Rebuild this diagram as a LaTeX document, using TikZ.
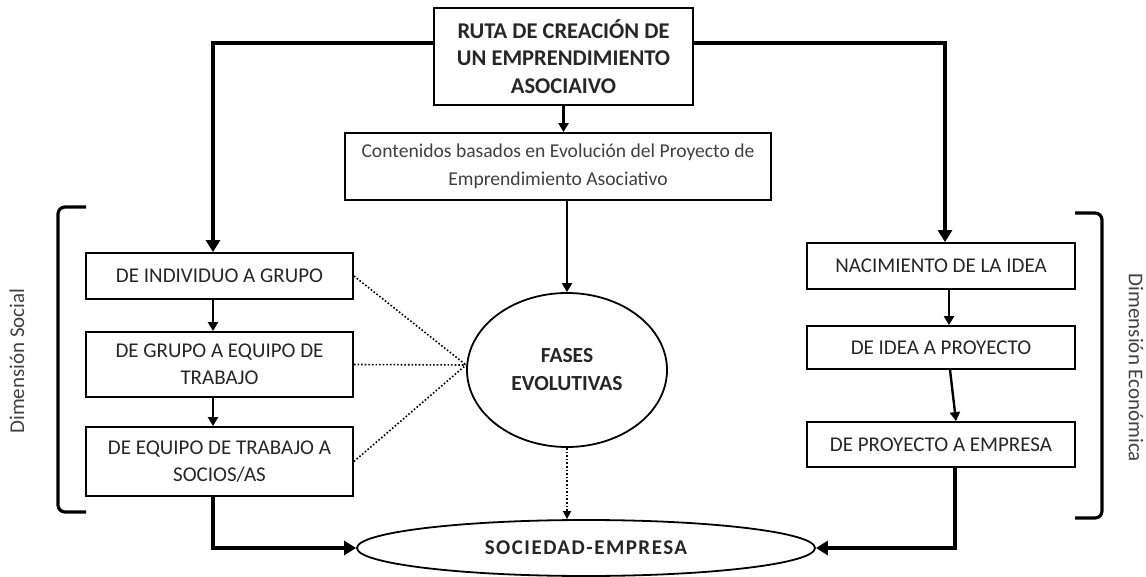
\documentclass[tikz,border=0pt]{standalone}
\usepackage{fontspec}
\setmainfont{Carlito}
\newfontfamily\spacedbold[LetterSpace=7]{Carlito}
\usetikzlibrary{arrows.meta,shapes.geometric}
\begin{document}
\begin{tikzpicture}[x=1pt,y=-1pt,
  box/.style={draw, line width=1.8pt, rectangle, align=center, inner sep=2pt, font=\fontsize{21}{27.5}\selectfont, text=black!85},
  thickline/.style={line width=3.8pt, -{Triangle[length=12pt,width=14pt]}},
  midarrow/.style={line width=2.4pt, -{Triangle[length=9pt,width=10pt]}},
  dotline/.style={line width=1.6pt, dotted},
  bracket/.style={line width=3.2pt, rounded corners=7pt},
  sidelabel/.style={font=\fontsize{21}{24}\selectfont, text=black!75}
]
\useasboundingbox (0,0) rectangle (1146,577);
% nodes
\node[box, minimum width=259pt, minimum height=97pt, font=\bfseries\fontsize{22.5}{27.5}\selectfont] (top) at (563.5,56.5) {RUTA DE CREACIÓN DE\\UN EMPRENDIMIENTO\\ASOCIAIVO};
\node[box, minimum width=426pt, minimum height=67pt, font=\fontsize{19.6}{28}\selectfont, text=black!75] (cont) at (558,166.5) {Contenidos basados en Evolución del Proyecto de\\Emprendimiento Asociativo};
\node[box, minimum width=267pt, minimum height=46pt] (b1) at (219.5,276) {DE INDIVIDUO A GRUPO};
\node[box, minimum width=267pt, minimum height=65pt] (b2) at (219.5,364.5) {DE GRUPO A EQUIPO DE\\TRABAJO};
\node[box, minimum width=267pt, minimum height=69pt] (b3) at (219.5,461.5) {DE EQUIPO DE TRABAJO A\\SOCIOS/AS};
\node[box, minimum width=268pt, minimum height=46pt] (r1) at (941,266) {NACIMIENTO DE LA IDEA};
\node[box, minimum width=268pt, minimum height=43pt] (r2) at (941,347.5) {DE IDEA A PROYECTO};
\node[box, minimum width=268pt, minimum height=45pt] (r3) at (941,444.5) {DE PROYECTO A EMPRESA};
\node[draw, line width=1.8pt, ellipse, minimum width=200pt, minimum height=154pt, inner sep=0pt, align=center, font=\bfseries\fontsize{21.5}{28}\selectfont, text=black!85] (fases) at (567,370) {FASES\\EVOLUTIVAS};
\node[draw, line width=1.8pt, ellipse, minimum width=458pt, minimum height=56pt, inner sep=0pt, font=\spacedbold\bfseries\fontsize{21}{24}\selectfont, text=black!85] (soc) at (586,548) {SOCIEDAD-EMPRESA};
\coordinate (conv) at (466,365);
% connectors
\draw[thickline] ([yshift=13.5pt]top.west) -| ([xshift=-6.5pt]b1.north);
\draw[thickline] ([yshift=13.5pt]top.east) -| ([xshift=4pt]r1.north);
\draw[midarrow] (top.south) -- (top.south |- cont.north);
\draw[midarrow] (cont.south -| fases.north) -- (fases.north);
\draw[midarrow] ([xshift=-6.5pt]b1.south) -- ([xshift=-6.5pt]b2.north);
\draw[midarrow] ([xshift=-6.5pt]b2.south) -- ([xshift=-6.5pt]b3.north);
\draw[midarrow] ([xshift=8pt]r1.south) -- ([xshift=8pt]r2.north);
\draw[midarrow] ([xshift=9pt]r2.south) -- ([xshift=15pt]r3.north);
\draw[thickline] ([xshift=-6.5pt]b3.south) |- (soc.west);
\draw[thickline] ([xshift=14pt]r3.south) |- (soc.east);
\draw[dotline] (b1.east) -- (conv);
\draw[dotline] (b2.east) -- (conv);
\draw[dotline] (b3.east) -- (conv);
\draw[dotline, -{Triangle[length=8pt,width=8pt]}] (fases.south) -- (fases.south |- soc.north);
% brackets
\draw[bracket] (86,207) -| (58,512) -- (86,512);
\draw[bracket] (1075,213) -| (1102,518) -- (1075,518);
\node[sidelabel, rotate=90] (ds) at (17,361) {Dimensión Social};
\node[sidelabel, rotate=-90] (de) at (1136,368) {Dimensión Económica};
\end{tikzpicture}
\end{document}
